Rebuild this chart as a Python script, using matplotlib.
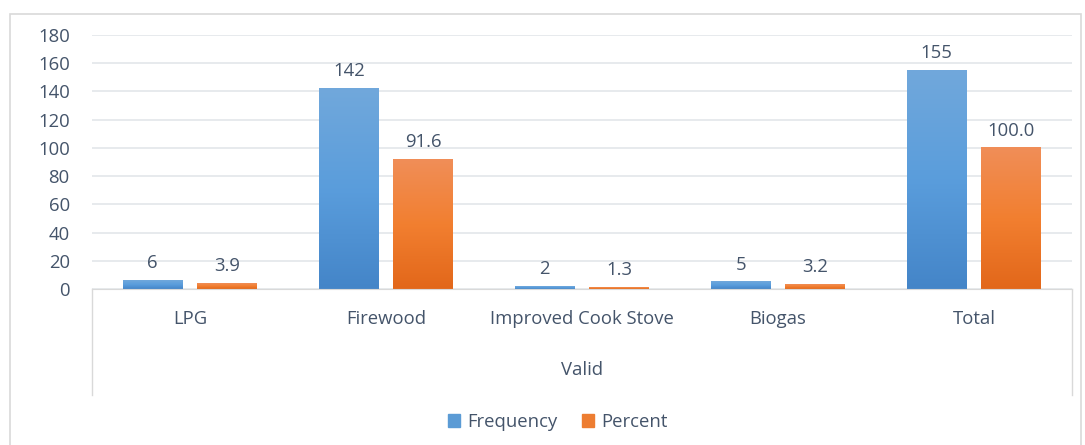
import numpy as np
import matplotlib
matplotlib.use("Agg")
import matplotlib.pyplot as plt
from matplotlib.colors import LinearSegmentedColormap
from matplotlib.patches import Rectangle
from matplotlib.lines import Line2D

categories = ["LPG", "Firewood", "Improved Cook Stove", "Biogas", "Total"]
frequency = [6, 142, 2, 5, 155]
percent = [3.9, 91.6, 1.3, 3.2, 100.0]
freq_labels = ["6", "142", "2", "5", "155"]
pct_labels = ["3.9", "91.6", "1.3", "3.2", "100.0"]
group_title = "Valid"

plt.rcParams["font.family"] = ["Open Sans", "DejaVu Sans"]
text_color = "#44546a"
grid_color = "#e3e6ea"
fs = 13.3

W, H = 1085, 445
fig = plt.figure(figsize=(W / 100, H / 100), dpi=100)


def px(x, y):
    # pixel coords (top-left origin) -> figure fraction
    return x / W, 1 - y / H


x0, x1 = 92, 1072
y_top, y_base = 35, 289
ax = fig.add_axes([x0 / W, (H - y_base) / H, (x1 - x0) / W, (y_base - y_top) / H])

# outer chart frame
fig.add_artist(Rectangle(px(10, 452), (1081 - 10) / W, (452 - 14) / H,
                         transform=fig.transFigure, fill=False,
                         edgecolor="#d9d9d9", linewidth=1.2))

xs = np.arange(len(categories))
width = 0.306
off = 0.19

blue_cmap = LinearSegmentedColormap.from_list("b", ["#4485c8", "#5a9ddc", "#71a8db"])
orange_cmap = LinearSegmentedColormap.from_list("o", ["#e2671a", "#f27f30", "#f08e58"])

bars_f = ax.bar(xs - off, frequency, width, color="none", linewidth=0, zorder=3)
bars_p = ax.bar(xs + off, percent, width, color="none", linewidth=0, zorder=3)

grad = np.linspace(0, 1, 256).reshape(-1, 1)
for bars, cmap in ((bars_f, blue_cmap), (bars_p, orange_cmap)):
    for b in bars:
        bx, bw, bh = b.get_x(), b.get_width(), b.get_height()
        ax.imshow(grad, cmap=cmap, origin="lower", aspect="auto",
                  extent=[bx, bx + bw, 0, bh], zorder=2)

for bars, labels in ((bars_f, freq_labels), (bars_p, pct_labels)):
    for b, lab in zip(bars, labels):
        ax.annotate(lab, (b.get_x() + b.get_width() / 2, b.get_height()),
                    xytext=(0, 6), textcoords="offset points", ha="center", va="bottom",
                    fontsize=fs, color=text_color)

ax.set_xlim(-0.5, len(categories) - 0.5)
ax.set_ylim(0, 180)
ax.set_yticks(range(0, 181, 20))
ax.yaxis.grid(True, color=grid_color, linewidth=1.2)
ax.set_axisbelow(True)
ax.tick_params(axis="y", length=0, labelsize=fs, labelcolor=text_color, pad=16)
ax.set_xticks([])
for s in ax.spines.values():
    s.set_visible(False)
ax.spines["bottom"].set_visible(True)
ax.spines["bottom"].set_color("#d9d9d9")

# category table below the axis
for xv in (x0, x1):
    fig.add_artist(Line2D([xv / W, xv / W], [1 - y_base / H, 1 - 395 / H],
                          transform=fig.transFigure, color="#d9d9d9", linewidth=1))
for i, c in enumerate(categories):
    cx = x0 + (i + 0.5) * (x1 - x0) / len(categories)
    fig.text(cx / W, 1 - 319 / H, c, ha="center", va="center", fontsize=fs, color=text_color)
fig.text(((x0 + x1) / 2) / W, 1 - 370 / H, group_title, ha="center", va="center",
         fontsize=fs, color=text_color)

handles = [Rectangle((0, 0), 1, 1, color="#5b9bd5"), Rectangle((0, 0), 1, 1, color="#ed7d31")]
fig.legend(handles, ["Frequency", "Percent"], loc="center", bbox_to_anchor=px(558, 422),
           ncol=2, frameon=False, fontsize=fs, labelcolor=text_color,
           handlelength=0.65, handleheight=0.65, handletextpad=0.4, columnspacing=1.3)

fig.savefig("out.png", dpi=100)
